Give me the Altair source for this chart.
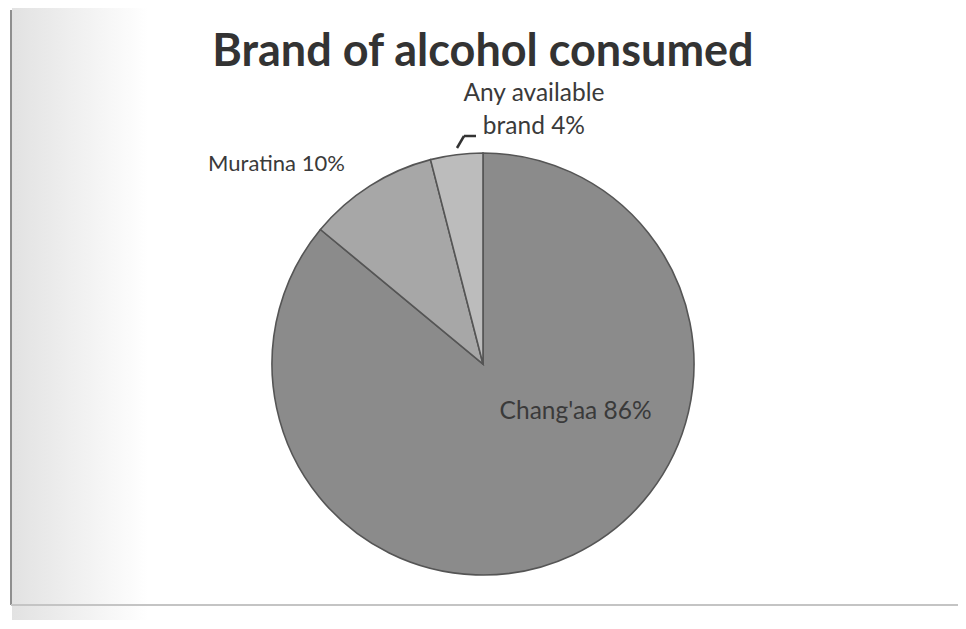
import altair as alt
import pandas as pd

# ---- data ----
brands = ["Chang'aa", "Muratina", "Any available brand"]
shares = [86, 10, 4]
labels = ["Chang'aa 86%", "Muratina 10%", "Any available\nbrand 4%"]
slice_colors = ["#8b8b8b", "#a7a7a7", "#bcbcbc"]

df = pd.DataFrame({
    "idx": list(range(len(brands))),
    "brand": brands,
    "share": shares,
    "label": labels,
})

FONT = "Lato"
TXT = "#3a3a3a"

base = alt.Chart(df).encode(
    theta=alt.Theta("share:Q", stack=True),
    order=alt.Order("idx:Q"),
)

pie = base.mark_arc(outerRadius=211, stroke="#555555", strokeWidth=1.6).encode(
    color=alt.Color("brand:N", scale=alt.Scale(domain=brands, range=slice_colors), legend=None)
)


def label_layer(i, size, **mark_kw):
    return base.transform_calculate(
        lab=f"datum.idx == {i} ? datum.label : ''"
    ).mark_text(font=FONT, fontSize=size, color=TXT, lineBreak="\n", **mark_kw).encode(
        text="lab:N"
    )


t_changaa = label_layer(0, 24.5, radius=100, dx=50, dy=-42, align="center")
t_muratina = label_layer(1, 22, radius=243, dx=-8, dy=5, align="right")
t_any = label_layer(2, 24.5, radius=256, dx=83, dy=-16, align="center", lineHeight=33)

one = alt.Data(values=[{}])

# leader line for the small slice label
lead1 = alt.Chart(one).mark_rule(color="#333333", strokeWidth=2.5).encode(
    x=alt.value(449), y=alt.value(40), x2=alt.value(456), y2=alt.value(28)
)
lead2 = alt.Chart(one).mark_rule(color="#333333", strokeWidth=2.5).encode(
    x=alt.value(456), y=alt.value(28), x2=alt.value(468), y2=alt.value(28)
)

# scanned page frame and shading
shade = alt.Chart(one).mark_rect(
    color=alt.LinearGradient(
        gradient="linear",
        stops=[alt.GradientStop(color="#e2e2e2", offset=0),
               alt.GradientStop(color="#ffffff", offset=1)],
        x1=0, x2=1, y1=0, y2=0,
    )
).encode(x=alt.value(4), x2=alt.value(140), y=alt.value(-100), y2=alt.value(512))

frame_left = alt.Chart(one).mark_rule(color="#8f8f8f", strokeWidth=2).encode(
    x=alt.value(3), x2=alt.value(3), y=alt.value(-98), y2=alt.value(497)
)
frame_bottom = alt.Chart(one).mark_rule(color="#c4c4c4", strokeWidth=2).encode(
    x=alt.value(3), x2=alt.value(950), y=alt.value(497), y2=alt.value(497)
)

chart = alt.layer(
    shade, frame_left, frame_bottom, pie, t_changaa, t_muratina, t_any, lead1, lead2
).properties(
    width=950,
    height=512,
    padding={"left": 0, "top": 100, "right": 0, "bottom": 0},
    autosize="none",
    background="white",
    title=alt.Title(
        "Brand of alcohol consumed",
        font=FONT, fontSize=45, fontWeight="bold", color="#333333",
        anchor="middle", frame="group", offset=0, dy=67,
    ),
).configure_view(stroke=None)

chart.save("out.html", embed_options={"renderer": "svg", "actions": False})
